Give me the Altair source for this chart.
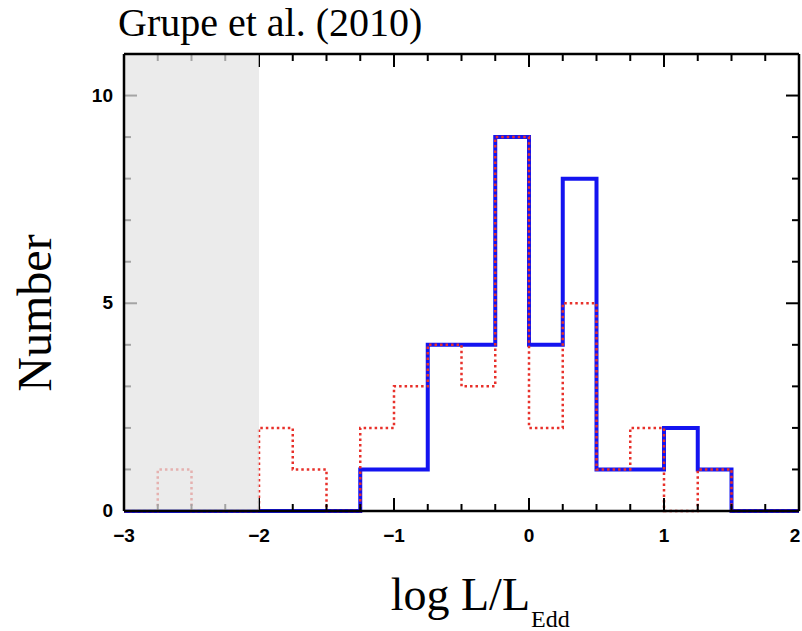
import altair as alt
import pandas as pd

# ---- data ----
bin_edges = [-3.0, -2.75, -2.5, -2.25, -2.0, -1.75, -1.5, -1.25, -1.0, -0.75,
             -0.5, -0.25, 0.0, 0.25, 0.5, 0.75, 1.0, 1.25, 1.5, 1.75, 2.0]
blue_counts = [0, 0, 0, 0, 0, 0, 0, 1, 1, 4, 4, 9, 4, 8, 1, 1, 2, 1, 0, 0]
red_counts = [0, 1, 0, 0, 2, 1, 0, 2, 3, 4, 3, 9, 2, 5, 1, 2, 0, 1, 0, 0]

x_major = [-3, -2, -1, 0, 1, 2]
x_major_labels = ["\u22123", "\u22122", "\u22121", "0", "1", "2"]
x_minor = [-2.75, -2.5, -2.25, -1.75, -1.5, -1.25, -0.75, -0.5, -0.25,
           0.25, 0.5, 0.75, 1.25, 1.5, 1.75]
y_major = [0, 5, 10]
y_major_labels = ["0", "5", "10"]
y_minor = [1, 2, 3, 4, 6, 7, 8, 9]
shade_range = [-3, -2]

title_text = "Grupe et al. (2010)"
ytitle_text = "Number"
xtitle_main = "log L/L"
xtitle_sub = "Edd"

W, H = 675, 457
XDOM = [-3, 2]
YDOM = [0, 11]

xs = alt.Scale(domain=XDOM, nice=False, zero=False)
ys = alt.Scale(domain=YDOM, nice=False, zero=False)


def step_df(counts):
    return pd.DataFrame({
        "edge": bin_edges,
        "count": [counts[min(i, len(counts) - 1)] for i in range(len(bin_edges))],
    })


blue = alt.Chart(step_df(blue_counts)).mark_line(
    interpolate="step-after", color="#1414f0", strokeWidth=4, strokeJoin="miter"
).encode(
    x=alt.X("edge:Q", scale=xs, axis=alt.Axis(
        values=x_major, ticks=False, domain=False, grid=False, title=None,
        labelOpacity=0, labelFontSize=19, labelPadding=16)),
    y=alt.Y("count:Q", scale=ys, axis=alt.Axis(
        values=y_major, ticks=False, domain=False, grid=False, title=None,
        labelOpacity=0, labelFontSize=19, labelPadding=11)),
)

red = alt.Chart(step_df(red_counts)).mark_line(
    interpolate="step-after", color="#e8302a", strokeWidth=2.5,
    strokeDash=[2.5, 3]
).encode(
    x=alt.X("edge:Q", scale=xs, axis=None),
    y=alt.Y("count:Q", scale=ys, axis=None),
)


def xticks(vals, length, top):
    df = pd.DataFrame({"t": vals})
    if top:
        yv, y2v = 0, length
    else:
        yv, y2v = H, H - length
    return alt.Chart(df).mark_rule(color="black", strokeWidth=2).encode(
        x=alt.X("t:Q", scale=xs, axis=None),
        y=alt.value(yv), y2=alt.value(y2v))


def yticks(vals, length, right):
    df = pd.DataFrame({"t": vals})
    if right:
        xv, x2v = W, W - length
    else:
        xv, x2v = 0, length
    return alt.Chart(df).mark_rule(color="black", strokeWidth=2).encode(
        y=alt.Y("t:Q", scale=ys, axis=None),
        x=alt.value(xv), x2=alt.value(x2v))


ticks = [
    xticks(x_major, 13, False), xticks(x_major, 13, True),
    xticks(x_minor, 7, False), xticks(x_minor, 7, True),
    yticks(y_major, 13, False), yticks(y_major, 13, True),
    yticks(y_minor, 7, False), yticks(y_minor, 7, True),
]

shade = alt.Chart(pd.DataFrame({"a": [shade_range[0]], "b": [shade_range[1]]})).mark_rect(
    color="#e3e3e3", opacity=0.72
).encode(
    x=alt.X("a:Q", scale=xs, axis=None), x2="b:Q",
    y=alt.value(0), y2=alt.value(H))

one = pd.DataFrame({"k": [0]})
frame = [
    alt.Chart(one).mark_rule(color="black", strokeWidth=2.5).encode(
        x=alt.value(0), x2=alt.value(W), y=alt.value(0)),
    alt.Chart(one).mark_rule(color="black", strokeWidth=2.5).encode(
        x=alt.value(0), x2=alt.value(W), y=alt.value(H)),
    alt.Chart(one).mark_rule(color="black", strokeWidth=2.5).encode(
        x=alt.value(0), y=alt.value(0), y2=alt.value(H)),
    alt.Chart(one).mark_rule(color="black", strokeWidth=2.5).encode(
        x=alt.value(W), y=alt.value(0), y2=alt.value(H)),
]


def label(txt, x, y, size, align="left", angle=0, font="Liberation Serif",
          weight="normal", baseline="alphabetic"):
    kw = dict(font=font, fontSize=size, align=align, fontWeight=weight,
              baseline=baseline, color="black")
    if angle:
        kw["angle"] = angle
    return alt.Chart(pd.DataFrame({"s": [txt]})).mark_text(**kw).encode(
        x=alt.value(x), y=alt.value(y), text="s:N")


def xpix(v):
    return (v - XDOM[0]) / (XDOM[1] - XDOM[0]) * W


def ypix(v):
    return H - (v - YDOM[0]) / (YDOM[1] - YDOM[0]) * H


tick_labels = []
for v, s in zip(x_major, x_major_labels):
    px = min(xpix(v), W - 4)
    tick_labels.append(label(s, px, H + 16, 19, align="center",
                             font="Liberation Sans", weight="bold", baseline="top"))
for v, s in zip(y_major, y_major_labels):
    tick_labels.append(label(s, -11, ypix(v), 19, align="right",
                             font="Liberation Sans", weight="bold", baseline="middle"))

texts = [
    label(title_text, -6, -18, 40),
    label(ytitle_text, -73, 259, 48, align="center", angle=270),
    label(xtitle_main, 406, 556, 46, align="right"),
    label(xtitle_sub, 407, 573, 24),
]

chart = alt.layer(blue, red, *ticks, shade, *frame, *texts, *tick_labels).properties(
    width=W, height=H,
    padding={"left": 124, "top": 54, "right": 3, "bottom": 120},
    autosize=alt.AutoSizeParams(type="none"),
).configure_view(stroke=None).configure(background="white")

chart.save("out.html", embed_options={"renderer": "svg", "actions": False})
